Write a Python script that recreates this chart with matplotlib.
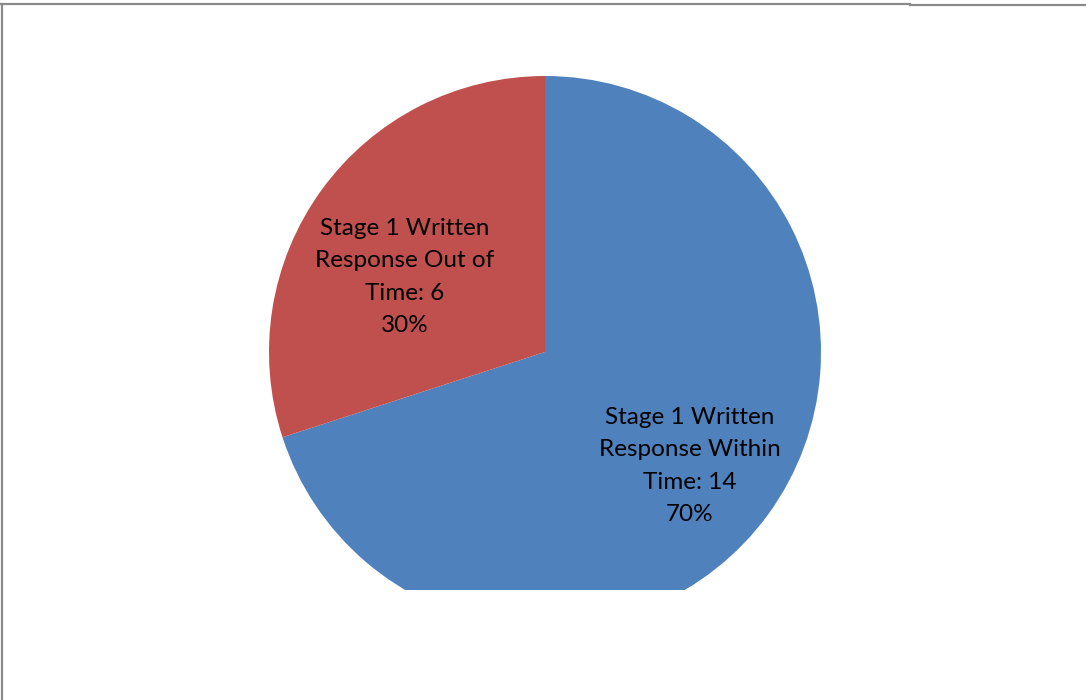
import matplotlib.pyplot as plt
from matplotlib.patches import Rectangle
from matplotlib.lines import Line2D

labels = ['Stage 1 Written\nResponse Within\nTime', 'Stage 1 Written\nResponse Out of\nTime']
counts = [14, 6]
colors = ['#4F81BD', '#C0504D']

W, H = 1086, 700
fig = plt.figure(figsize=(W / 100, H / 100), dpi=100)
ax = fig.add_axes([0, 0, 1, 1])

cx, cy, r = 545, H - 352, 276
wedges, _ = ax.pie(counts, colors=colors, startangle=90, counterclock=False,
                   center=(cx, cy), radius=r, frame=True,
                   wedgeprops=dict(linewidth=0))
ax.set_xlim(0, W)
ax.set_ylim(0, H)
ax.set_aspect('equal')
ax.axis('off')

# plot area ends before the bottom of the circle
clip = Rectangle((0, H - 590), W, 590, transform=ax.transData)
for w in wedges:
    w.set_clip_path(clip)
    w.set_clip_on(True)

total = sum(counts)
label_pos = [(690, H - 466), (405, H - 277)]
for lab, n, (x, y) in zip(labels, counts, label_pos):
    pct = round(100 * n / total)
    ax.text(x, y, f'{lab}: {n}\n{pct}%', ha='center', va='center',
            fontsize=17.5, family='Lato', linespacing=1.65, color='black')

# chart frame edges
grey = '#8a8a8a'
fig.add_artist(Line2D([0, 910 / W], [1 - 3.5 / H, 1 - 3.5 / H], color=grey, lw=1.6))
fig.add_artist(Line2D([910 / W, 1], [1 - 4.5 / H, 1 - 4.5 / H], color=grey, lw=1.6))
fig.add_artist(Line2D([1.5 / W, 1.5 / W], [0, 1 - 3.5 / H], color=grey, lw=1.6))

fig.savefig('out.png', dpi=100, facecolor='white')
